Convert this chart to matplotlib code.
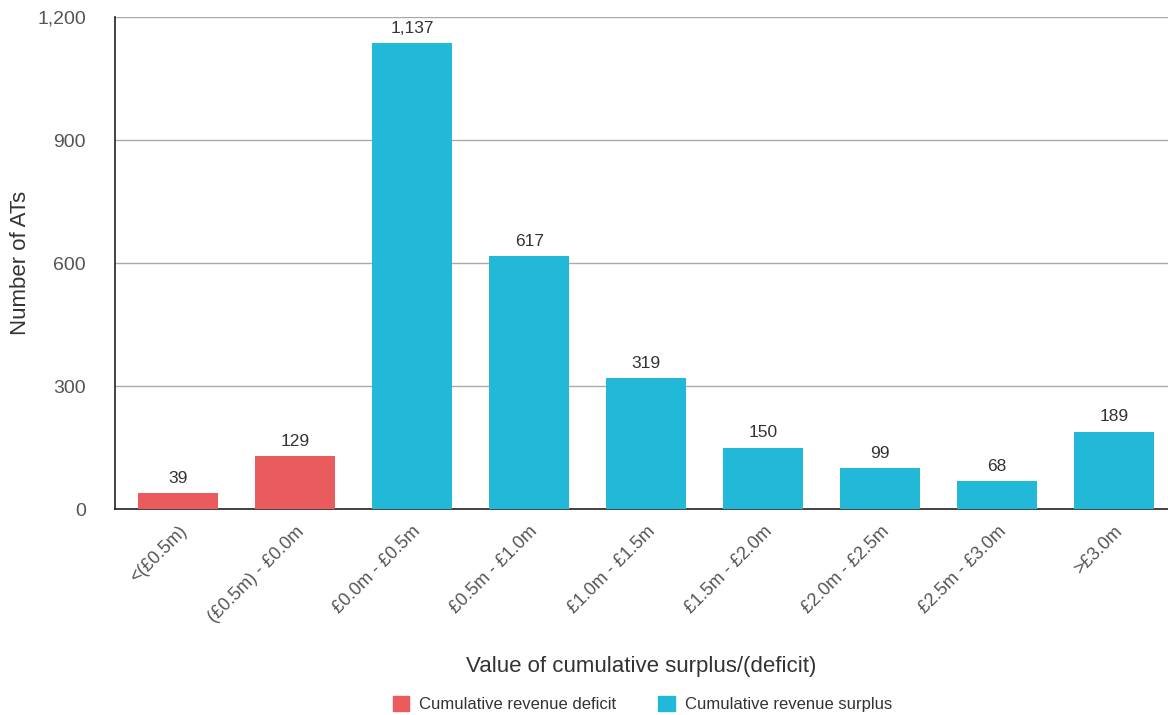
import matplotlib.pyplot as plt
from matplotlib.patches import Patch
from matplotlib.ticker import FuncFormatter

categories = ["<(£0.5m)", "(£0.5m) - £0.0m", "£0.0m - £0.5m", "£0.5m - £1.0m",
              "£1.0m - £1.5m", "£1.5m - £2.0m", "£2.0m - £2.5m", "£2.5m - £3.0m", ">£3.0m"]
values = [39, 129, 1137, 617, 319, 150, 99, 68, 189]
is_deficit = [True, True, False, False, False, False, False, False, False]

red = "#EA5B5E"
blue = "#22B8D8"
text_col = "#333333"
tick_col = "#555555"

plt.rcParams['font.family'] = ['Liberation Sans', 'DejaVu Sans']

fig = plt.figure(figsize=(11.68, 7.15), dpi=100)
ax = fig.add_axes([0.0985, 0.288, 0.9015, 0.688])

colors = [red if d else blue for d in is_deficit]
x = list(range(len(categories)))
ax.bar(x, values, width=0.68, color=colors, zorder=3)

for xi, v in zip(x, values):
    ax.text(xi, v + 18, f"{v:,}", ha='center', va='bottom', fontsize=12.5, color=text_col)

ax.set_ylim(0, 1200)
ax.set_xlim(-0.54, len(categories) - 0.54)
ax.set_yticks([0, 300, 600, 900, 1200])
ax.yaxis.set_major_formatter(FuncFormatter(lambda v, p: f"{int(v):,}"))
ax.grid(axis='y', color='#AAAAAA', linewidth=1, zorder=0)
ax.set_axisbelow(True)

for s in ['top', 'right']:
    ax.spines[s].set_visible(False)
ax.spines['left'].set_color('#222222')
ax.spines['bottom'].set_color('#222222')
ax.spines['left'].set_linewidth(1.2)
ax.spines['bottom'].set_linewidth(1.2)

ax.tick_params(axis='both', length=0, labelsize=13, colors=tick_col)
ax.tick_params(axis='y', labelsize=14, pad=21)
ax.set_xticks(x)
ax.set_xticklabels(categories, rotation=45, ha='right', rotation_mode='anchor')
ax.tick_params(axis='x', pad=10)

ax.set_ylabel("Number of ATs", fontsize=16, color=text_col)
ax.yaxis.set_label_coords(-0.08, 0.5)
ax.set_xlabel("Value of cumulative surplus/(deficit)", fontsize=16, color=text_col, labelpad=22)

handles = [Patch(color=red, label="Cumulative revenue deficit"),
           Patch(color=blue, label="Cumulative revenue surplus")]
fig.legend(handles=handles, loc='center', bbox_to_anchor=(0.55, 0.015), ncol=2,
           frameon=False, fontsize=12, handlelength=1.0, handleheight=1.0,
           columnspacing=2.5, handletextpad=0.6, labelcolor=text_col)

fig.savefig("out.png", dpi=100)
